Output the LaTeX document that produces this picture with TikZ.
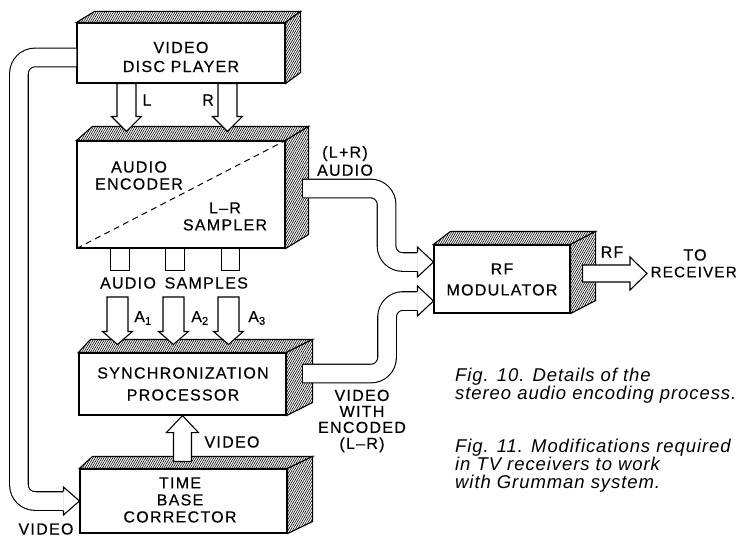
\documentclass[tikz,border=0pt]{standalone}
\usepackage{fontspec}
\setmainfont{Liberation Sans}
\newfontfamily\labfont{Liberation Sans}[LetterSpace=8,FakeBold=0.4]
\newfontfamily\captfont{Liberation Sans}[LetterSpace=5]
\usetikzlibrary{calc,patterns.meta}

% vertical block arrow: start, tip, shaft half width, head half width, head length
\newcommand\vblock[5]{%
  \draw[blk] let \p1=(#1), \p2=(#2), \n1={#5*sign(\y1-\y2)} in
    (\x2-#3pt,\y1) -- (\x2-#3pt,\y2+\n1*1pt) -- (\x2-#4pt,\y2+\n1*1pt) -- (\x2,\y2)
    -- (\x2+#4pt,\y2+\n1*1pt) -- (\x2+#3pt,\y2+\n1*1pt) -- (\x2+#3pt,\y1) -- cycle;}
% head of a tube pointing right: tip, shaft half width, head half width
\newcommand\rhead[3]{%
  \fill[white] let \p1=(#1) in (\x1-16pt,\y1-#3pt) -- (\x1,\y1) -- (\x1-16pt,\y1+#3pt) -- cycle;
  \draw[line width=1.1pt] let \p1=(#1) in (\x1-16pt,\y1-#2pt) -- (\x1-16pt,\y1-#3pt) -- (\x1,\y1)
    -- (\x1-16pt,\y1+#3pt) -- (\x1-16pt,\y1+#2pt);}
% 3D faces of a box node: name, left depth, right depth, height of depth
\newcommand\solidfaces[4]{%
  \draw[hatch] (#1.north west) -- ++(#2,-#4) -- ($(#1.north east)+(#3,-#4)$) -- (#1.north east) -- cycle;
  \draw[hatch] (#1.north east) -- ++(#3,-#4) -- ($(#1.south east)+(#3,-#4)$) -- (#1.south east) -- cycle;}

\begin{document}
\begin{tikzpicture}[x=1pt,y=-1pt,line join=miter,
  box/.style={draw,line width=1.1pt,fill=white,inner sep=0pt},
  hatch/.style={line width=1.1pt,preaction={fill=white},
    pattern={Lines[angle=60,distance=1.9pt,line width=0.6pt]}},
  blk/.style={draw,line width=1.1pt,fill=white},
  tube/.style={line width=1.1pt,double=white,double distance=17.5pt,rounded corners=16pt},
  lbl/.style={font={\labfont\fontsize{16}{#1}\selectfont},align=center,inner sep=0pt},
  lbl/.default=17,
  capt/.style={font={\captfont\itshape\fontsize{18.5}{18}\selectfont},anchor=base west,inner sep=0pt}]
\useasboundingbox (0,0) rectangle (738,543);
\clip (0,0) rectangle (738,543);

% boxes
\node[box,minimum width=208,minimum height=60] (vdp) at (181,53) {};
\node[box,minimum width=208,minimum height=107] (ae) at (181,194.5) {};
\node[box,minimum width=207,minimum height=62] (sp) at (182.5,384) {};
\node[box,minimum width=207,minimum height=64] (tbc) at (183.5,501) {};
\node[box,minimum width=136,minimum height=68] (rf) at (502,279) {};
\solidfaces{vdp}{18}{15}{11}
\solidfaces{ae}{16}{23}{14}
\solidfaces{sp}{12}{26}{13}
\solidfaces{tbc}{13}{25}{12}
\solidfaces{rf}{17}{25}{13}
\draw[line width=1pt,dash pattern=on 6pt off 4.5pt] (ae.south west) -- (ae.north east);

% box texts
\node[lbl=19] (vdpt) at (181,57) {VIDEO\\DISC PLAYER};
\node[lbl] (aet) at (139,175.5) {AUDIO\\ENCODER};
\node[lbl] (lrt) at (225,216.5) {L–R\\SAMPLER};
\node[lbl=22] (spt) at (183,384) {SYNCHRONIZATION\\PROCESSOR};
\node[lbl] (tbct) at (180,500) {TIME\\BASE\\CORRECTOR};
\node[lbl=21] (rft) at (502,279.5) {RF\\MODULATOR};

% L and R arrows
\vblock{$(vdp.south west)+(50,0)$}{$(ae.north west)+(50,-9)$}{9.5}{15}{15}
\vblock{$(vdp.south west)+(151,0)$}{$(ae.north west)+(151,-9)$}{9.5}{15}{15}
\node[lbl] (lL) at (147,100) {L};
\node[lbl] (lR) at (208,100) {R};

% sample stubs
\draw[blk] ($(ae.south west)+(34,0)$) rectangle ++(19,22);
\draw[blk] ($(ae.south west)+(89,0)$) rectangle ++(19,22);
\draw[blk] ($(ae.south west)+(145,0)$) rectangle ++(18,22);
\node[lbl] (samp) at (174,283) {AUDIO\hspace{3pt} SAMPLES};

% A1..A3 arrows
\coordinate (a1s) at (118,297);
\coordinate (a2s) at (174,297);
\coordinate (a3s) at (229,297);
\vblock{a1s}{$(sp.north west)+(39,-8)$}{10.5}{15}{13}
\vblock{a2s}{$(sp.north west)+(95,-8)$}{10.5}{15}{13}
\vblock{a3s}{$(sp.north west)+(150,-8)$}{10.5}{15}{13}
\node[lbl] (la1) at (143,318) {A\textsubscript{1}};
\node[lbl] (la2) at (200,318) {A\textsubscript{2}};
\node[lbl] (la3) at (257,318) {A\textsubscript{3}};

% video arrow up from TBC to SP
\vblock{$(tbc.north west)+(103,-7)$}{$(sp.south west)+(104,0)$}{9}{16}{17}
\node[lbl] (lvid) at (232,442) {VIDEO};

% loop tube from VDP to TBC
\draw[tube] ($(vdp.west)+(0,4.5)$) -- ++(-57.5,0) |- ($(tbc.west)+(-16,0)$);
\rhead{tbc.west}{9.3}{14}
\node[lbl] (lvid2) at (46,529) {VIDEO};

% audio tube from AE to RF
\draw[tube] ($(ae.east)+(17,-6)$) -- ++(84,0) |- ($(rf.west)+(-16,-17)$);
\draw[line width=1.1pt] ($(ae.east)+(17,-15.3)$) -- ++(0,18.6);
\rhead{$(rf.west)+(0,-17)$}{9.3}{15}
\node[lbl=18] (lpr) at (345,161) {(L+R)\\AUDIO};

% video tube from SP to RF
\draw[tube] ($(sp.east)+(16,-10.5)$) -- ++(84.5,0) |- ($(rf.west)+(-16,22)$);
\draw[line width=1.1pt] ($(sp.east)+(16,-19.8)$) -- ++(0,18.6);
\rhead{$(rf.west)+(0,22)$}{9.3}{15}
\node[lbl=16] (lenc) at (362,421) {VIDEO\\WITH\\ENCODED\\(L–R)};

% RF output
\node[lbl,anchor=east,font={\labfont\fontsize{15.2}{17}\selectfont}] (lrec) at (737,272) {RECEIVER};
\node[lbl] (lto) at (695,255) {TO};
\coordinate (rfo) at ($(rf.east)+(12,-5.5)$);
\coordinate (rftip) at (647,273.5);
\draw[blk] let \p1=(rfo), \p2=(rftip) in
  (\x1,\y1+8.5pt) -- (\x2-17pt,\y1+8.5pt) -- (\x2-17pt,\y1+16.5pt) -- (\x2,\y1)
  -- (\x2-17pt,\y1-16.5pt) -- (\x2-17pt,\y1-8.5pt) -- (\x1,\y1-8.5pt) -- cycle;
\node[lbl] (lrf) at (612,252) {RF};

% captions
\node[capt] (c1) at (455,381) {Fig. 10. Details of the};
\node[capt] (c2) at (455,399) {stereo audio encoding process.};
\node[capt] (c3) at (455,452) {Fig. 11. Modifications required};
\node[capt] (c4) at (455,470) {in TV receivers to work};
\node[capt] (c5) at (455,488) {with Grumman system.};
\end{tikzpicture}
\end{document}
